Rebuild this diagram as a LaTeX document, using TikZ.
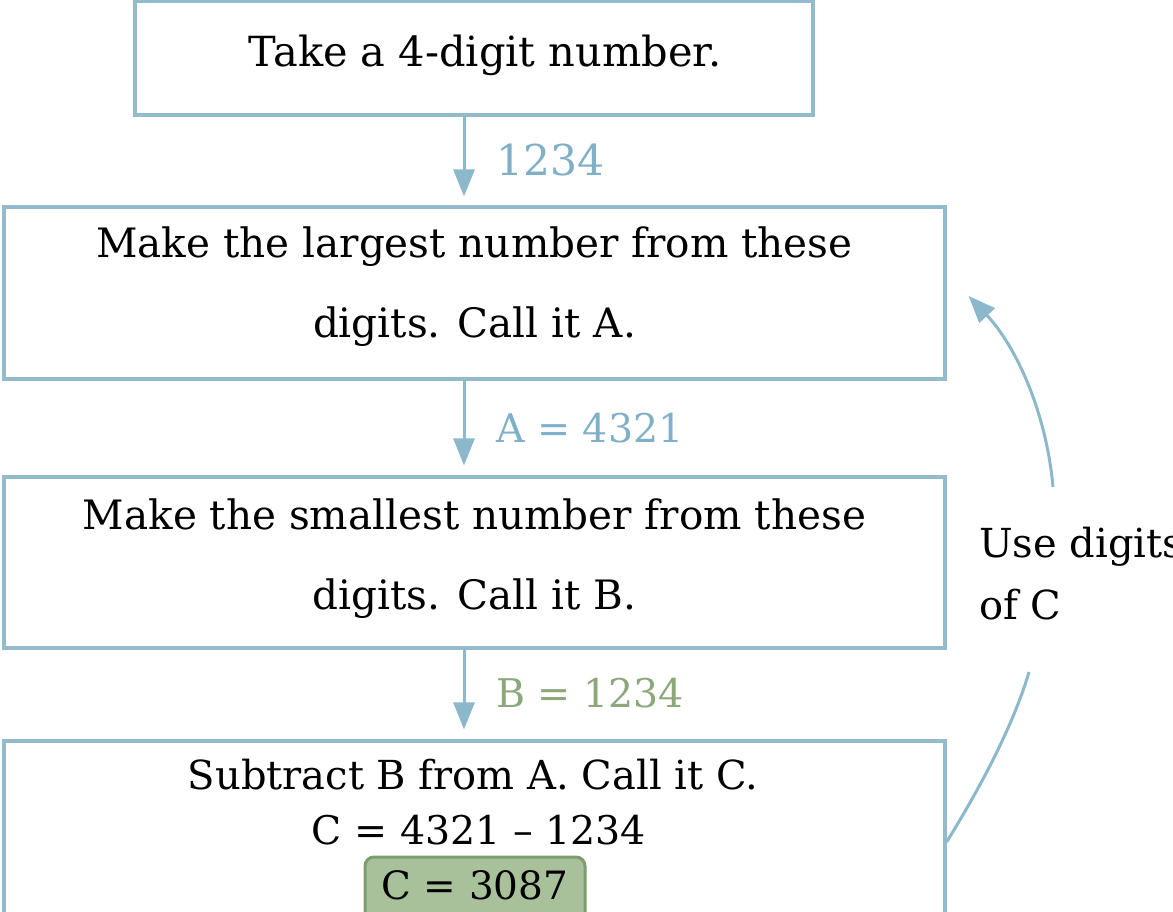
\documentclass[tikz,border=0pt]{standalone}
\usepackage{fontspec}
\setmainfont{DejaVu Serif}
\usetikzlibrary{arrows.meta}
\definecolor{boxblue}{HTML}{93BBCC}
\definecolor{arrblue}{HTML}{8CB8CB}
\definecolor{lblblue}{HTML}{80B0C8}
\definecolor{lblgreen}{HTML}{8BA77B}
\definecolor{gfill}{HTML}{A9C19B}
\definecolor{gdraw}{HTML}{7F9B70}
\tikzset{
  stepbox/.style={draw=boxblue, line width=3.2pt, inner sep=0pt},
  bodytxt/.style={font=\fontsize{40.5}{80}\selectfont, text=black, align=center, inner sep=0pt},
  lbl/.style={font=\fontsize{39.5}{44}\selectfont, anchor=west, inner sep=0pt},
  flow/.style={draw=arrblue, line width=3pt, -{Triangle[length=27pt,width=21pt]}},
  loopline/.style={draw=arrblue, line width=3pt},
}
\begin{document}
\begin{tikzpicture}[x=1pt,y=-1pt]
\useasboundingbox (0,0) rectangle (1173,912);
\fill[white] (0,0) rectangle (1173,912);
% boxes
\node[stepbox, minimum width=678pt, minimum height=114pt] (b1) at (474,58) {};
\node[stepbox, minimum width=941pt, minimum height=172pt] (b2) at (474.5,293) {};
\node[stepbox, minimum width=941pt, minimum height=171pt] (b3) at (474.5,562.5) {};
\node[stepbox, minimum width=941pt, minimum height=202pt] (b4) at (474.5,842) {};
% texts
\node[bodytxt, font=\fontsize{41.5}{80}\selectfont] (t1) at (485,55) {Take a 4-digit number.};
\node[bodytxt] (t2) at (474.5,287) {Make the largest number from these\\digits. Call it A.};
\node[bodytxt] (t3) at (474.5,559) {Make the smallest number from these\\digits. Call it B.};
\node[bodytxt, font=\fontsize{40}{44}\selectfont] (t4a) at (473,775) {Subtract B from A. Call it C.};
\node[bodytxt, font=\fontsize{39.5}{44}\selectfont] (t4b) at (479,830) {C = 4321 – 1234};
\node[draw=gdraw, fill=gfill, line width=3pt, rounded corners=9pt, minimum width=220pt, minimum height=66pt] (g) at (475,890) {};
\node[bodytxt, font=\fontsize{39}{44}\selectfont] (t4c) at (475,885) {C = 3087};
% arrows
\coordinate (ax) at (464,0);
\draw[flow] (b1.south -| ax) -- ([yshift=9pt]b2.north -| ax);
\draw[flow] (b2.south -| ax) -- ([yshift=10pt]b3.north -| ax);
\draw[flow] (b3.south -| ax) -- ([yshift=10pt]b4.north -| ax);
% labels
\node[lbl, text=lblblue, font=\fontsize{42.5}{44}\selectfont] (l1) at (496,160) {1234};
\node[lbl, text=lblblue] (l2) at (496,428) {A = 4321};
\node[lbl, text=lblgreen] (l3) at (496,693) {B = 1234};
% loop
\coordinate (gapl) at (1029,672);
\coordinate (gapu) at (1053,487);
\draw[loopline] (b4.east) .. controls (985,780) and (1015,720) .. (gapl);
\draw[flow] (gapu) .. controls (1046,410) and (1015,345) .. ([xshift=22pt,yshift=-3pt]b2.east);
\node[bodytxt, align=left, anchor=west, font=\fontsize{40}{62}\selectfont] (usec) at (979,574) {Use digits\\of C};
\end{tikzpicture}
\end{document}
